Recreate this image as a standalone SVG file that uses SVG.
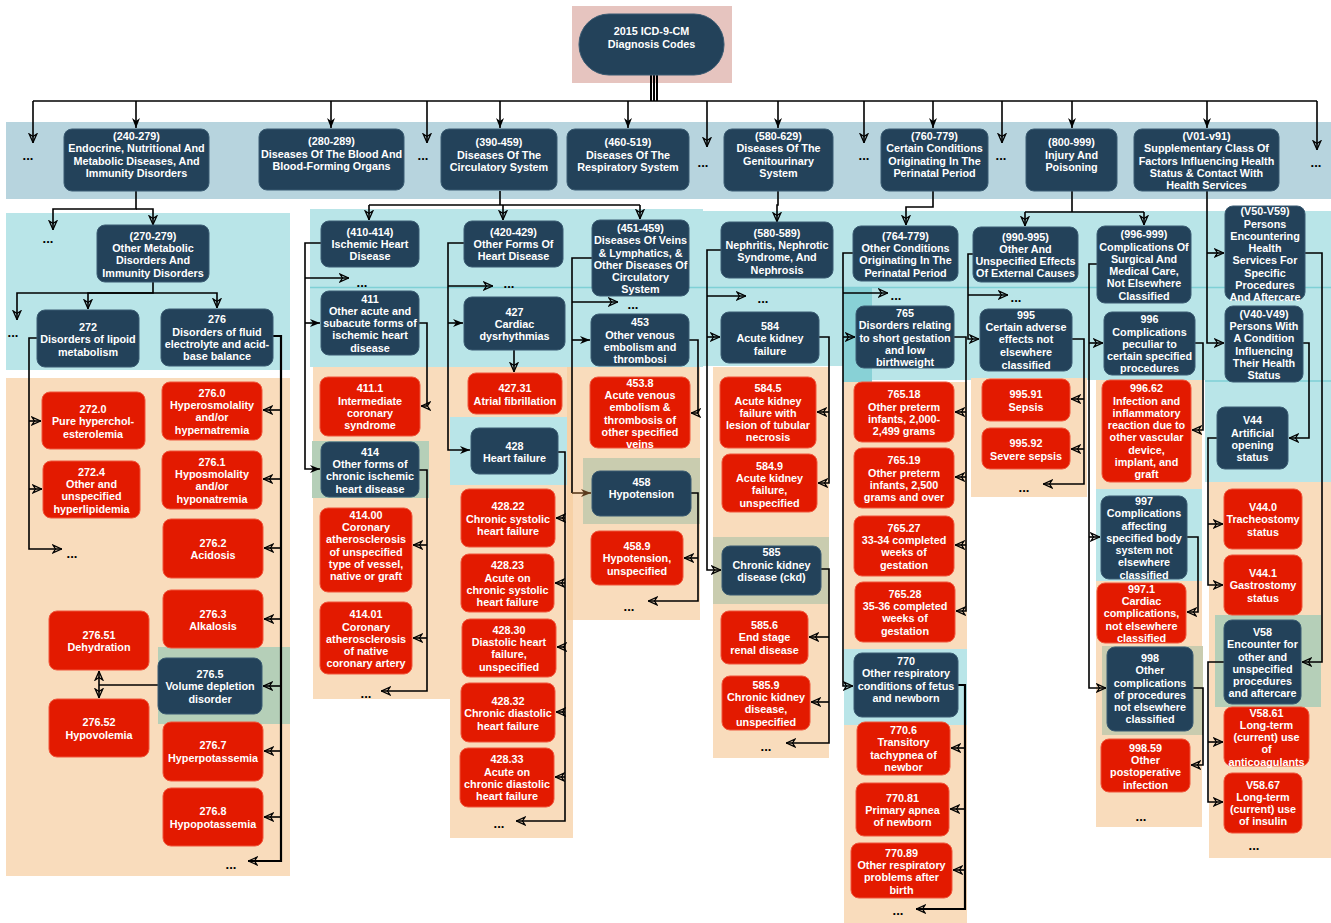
<svg xmlns="http://www.w3.org/2000/svg" width="1331" height="923" viewBox="0 0 1331 923">
<style>
.d{fill:#23425a;stroke:#3a5b72;stroke-width:1}
.r{fill:#e31a00;stroke:#f0553a;stroke-width:1}
.t{font-family:"Liberation Sans",Arial,sans-serif;font-weight:700;font-size:10.8px;fill:#fff;text-anchor:middle}
.k{font-family:"Liberation Sans",Arial,sans-serif;font-weight:700;font-size:13px;fill:#000;text-anchor:middle}
.c{fill:none;stroke:#000;stroke-width:1.6}
.o{marker-end:url(#ao)}
.f{marker-end:url(#af)}
.bg{stroke:none}
</style>
<defs>
<marker id="af" viewBox="0 0 10 10" refX="10" refY="5" markerWidth="10" markerHeight="10" markerUnits="userSpaceOnUse" orient="auto"><path d="M0,1 L10,5 L0,9 L3,5 Z" fill="#000"/></marker>
<marker id="ao" viewBox="0 0 10 10" refX="10" refY="5" markerWidth="10" markerHeight="10" markerUnits="userSpaceOnUse" orient="auto"><path d="M1,1.2 L9.6,5 L1,8.8 L3.5,5 Z" fill="none" stroke="#000" stroke-width="1.3"/></marker>
<marker id="ab" viewBox="0 0 10 10" refX="10" refY="5" markerWidth="10" markerHeight="10" markerUnits="userSpaceOnUse" orient="auto"><path d="M0,1 L10,5 L0,9 L3,5 Z" fill="#5a3a1c"/></marker>
</defs>
<rect width="1331" height="923" fill="#fff"/>
<g id="panels">
<rect class="bg" x="572" y="6" width="160" height="77" fill="#e6c4bf"/>
<rect class="bg" x="6" y="122" width="1325" height="77" fill="#b7d4de"/>
<rect class="bg" x="6" y="213" width="284" height="157" fill="#b9e5e8"/>
<rect class="bg" x="6" y="378" width="284" height="498" fill="#f9dcbc"/>
<rect class="bg" x="310" y="209" width="393" height="158" fill="#b9e5e8"/>
<rect class="bg" x="703" y="211" width="140" height="155" fill="#b9e5e8"/>
<rect class="bg" x="843" y="211" width="362" height="169" fill="#b9e5e8"/>
<rect class="bg" x="1205" y="211" width="126" height="271" fill="#b9e5e8"/>
<rect class="bg" x="843" y="288" width="29" height="94" fill="#88d1d6"/>
<path d="M310,287.5 H1331 M1205,381 H1331" stroke="#7fd0d5" stroke-width="1.5" fill="none"/>
<rect class="bg" x="313" y="367" width="137" height="332" fill="#f9dcbc"/>
<rect class="bg" x="450" y="367" width="123" height="471" fill="#f9dcbc"/>
<rect class="bg" x="573" y="367" width="127" height="253" fill="#f9dcbc"/>
<rect class="bg" x="567" y="367" width="6" height="253" fill="#f7d1a6"/>
<rect class="bg" x="450" y="417" width="117" height="68" fill="#b9e5e8"/>
<rect class="bg" x="583" y="458" width="117" height="66" fill="#c9ccaf"/>
<rect class="bg" x="713" y="367" width="116" height="391" fill="#f9dcbc"/>
<rect class="bg" x="713" y="537" width="116" height="67" fill="#c9ccaf"/>
<rect class="bg" x="844" y="382" width="123" height="541" fill="#f9dcbc"/>
<rect class="bg" x="844" y="649" width="123" height="76" fill="#b9e5e8"/>
<rect class="bg" x="971" y="378" width="116" height="119" fill="#f9dcbc"/>
<rect class="bg" x="1096" y="380" width="106" height="447" fill="#f9dcbc"/>
<rect class="bg" x="1096" y="489" width="106" height="92" fill="#b9e5e8"/>
<rect class="bg" x="1102" y="646" width="101" height="89" fill="#c9ccaf"/>
<rect class="bg" x="1209" y="482" width="122" height="376" fill="#f9dcbc"/>
<rect class="bg" x="1215" y="615" width="106" height="92" fill="#b5cfb8"/>
<rect class="bg" x="312" y="441" width="117" height="57" fill="#b5cfb8"/>
<rect class="bg" x="158" y="647" width="132" height="77" fill="#b5cfb8"/>
</g>
<g id="connectors">
<path d="M651,75 V101 M654,75 V101 M657,75 V101" stroke="#000" stroke-width="2" fill="none"/>
<path class="c" d="M33,101 H1317"/>
<path class="c o" d="M33,101 V143"/>
<path class="c f" d="M136,101 V128"/>
<path class="c f" d="M331,101 V128"/>
<path class="c o" d="M427,101 V143"/>
<path class="c f" d="M500,101 V128"/>
<path class="c f" d="M628,101 V128"/>
<path class="c o" d="M707,101 V147"/>
<path class="c f" d="M778,101 V128"/>
<path class="c o" d="M864,101 V143"/>
<path class="c f" d="M933,101 V128"/>
<path class="c o" d="M1002,101 V143"/>
<path class="c f" d="M1072,101 V128"/>
<path class="c f" d="M1207,101 V128"/>
<path class="c o" d="M1317,101 V150"/>

<path class="c o" d="M136,191 V209 H53 V230"/>
<path class="c o" d="M136,209 H153 V225"/>
<path class="c o" d="M153,282 V293 H17 V320"/>
<path class="c o" d="M153,293 H88 V309"/>
<path class="c o" d="M153,293 H217 V308"/>
<path class="c o" d="M37,338 H29 V549 H62"/>
<path class="c o" d="M29,421 H41"/>
<path class="c o" d="M29,489 H42"/>
<path class="c o" d="M273,336 H281 V861 H248" style="stroke-width:2.2"/>
<path class="c o" d="M281,410 H263"/>
<path class="c o" d="M281,479 H263"/>
<path class="c o" d="M281,548 H264"/>
<path class="c o" d="M281,619 H264"/>
<path class="c o" d="M281,686 H263"/>
<path class="c o" d="M281,751 H264"/>
<path class="c o" d="M281,817 H264"/>
<path class="c" d="M158,685 H99"/>
<path class="c o" d="M99,685 V671"/>
<path class="c o" d="M99,685 V698"/>

<path class="c" d="M500,191 V205 M369,205 H640"/>
<path class="c o" d="M369,205 V220"/>
<path class="c o" d="M503,205 V220"/>
<path class="c o" d="M640,205 V219"/>
<path class="c f" d="M321,243 H305 V469 H320"/>
<path class="c o" d="M305,278 H349"/>
<path class="c f" d="M305,323 H320"/>
<path class="c o" d="M419,323 H427 V406 H421"/>
<path class="c o" d="M419,470 H427 V691 H381"/>
<path class="c o" d="M427,545 H413"/>
<path class="c o" d="M427,638 H413"/>
<path class="c f" d="M464,243 H448 V450 H470"/>
<path class="c o" d="M448,286 H493"/>
<path class="c f" d="M448,323 H463"/>
<path class="c o" d="M514,350 V372"/>
<path class="c o" d="M558,452 H565 V821 H516"/>
<path class="c o" d="M565,518 H556"/>
<path class="c o" d="M565,583 H555"/>
<path class="c o" d="M565,647 H557"/>
<path class="c o" d="M565,712 H556"/>
<path class="c o" d="M565,777 H555"/>
<path class="c" d="M592,258 H572 V493"/>
<path d="M572,493 H591" fill="none" stroke="#5a3a1c" stroke-width="1.6" marker-end="url(#ab)"/>
<path class="c o" d="M572,302 H618"/>
<path class="c f" d="M572,340 H590"/>
<path class="c o" d="M689,340 H698 V413 H691"/>
<path class="c o" d="M691,493 H698 V601 H648"/>
<path class="c o" d="M698,558 H684"/>

<path class="c o" d="M778,191 V205 H777 V222"/>
<path class="c o" d="M721,250 H707 V570 H721"/>
<path class="c o" d="M707,296 H746"/>
<path class="c o" d="M707,337 H720"/>
<path class="c o" d="M819,337 H829 V483 H818"/>
<path class="c o" d="M829,412 H817"/>
<path class="c o" d="M821,569 H829 V743 H786"/>
<path class="c o" d="M829,637 H809"/>
<path class="c o" d="M829,702 H811"/>

<path class="c o" d="M933,191 V207 H906 V225"/>
<path class="c o" d="M853,253 H843 V686 H853"/>
<path class="c o" d="M843,293 H888"/>
<path class="c o" d="M843,337 H855"/>
<path class="c o" d="M954,337 H966 V611 H956"/>
<path class="c o" d="M966,412 H955"/>
<path class="c o" d="M966,477 H955"/>
<path class="c o" d="M966,545 H955"/>
<path class="c o" d="M958,685 H965 V909 H916" style="stroke-width:2.2"/>
<path class="c o" d="M965,748 H951"/>
<path class="c o" d="M965,809 H950"/>
<path class="c o" d="M965,870 H953"/>

<path class="c" d="M1072,191 V212 M1025,212 H1144"/>
<path class="c o" d="M1025,212 V226"/>
<path class="c o" d="M1144,212 V225"/>
<path class="c o" d="M973,254 H968 V339 H979"/>
<path class="c o" d="M968,295 H1008"/>
<path class="c o" d="M1072,339 H1084 V484 H1043"/>
<path class="c o" d="M1084,399 H1071"/>
<path class="c o" d="M1084,449 H1071"/>
<path class="c o" d="M1097,264 H1089 V688 H1106"/>
<path class="c o" d="M1089,343 H1103"/>
<path class="c o" d="M1089,537 H1100"/>
<path class="c o" d="M1195,343 H1203 V430 H1192"/>
<path class="c o" d="M1187,537 H1198 V612 H1187"/>
<path class="c o" d="M1193,688 H1203 V765 H1191"/>

<path class="c o" d="M1207,191 V343 H1224"/>
<path class="c o" d="M1207,253 H1224"/>
<path class="c o" d="M1305,253 H1322 V662 H1302"/>
<path class="c o" d="M1303,343 H1309 V438 H1289"/>
<path class="c o" d="M1217,438 H1208 V585 H1223"/>
<path class="c o" d="M1208,524 H1223"/>
<path class="c o" d="M1224,662 H1208 V802 H1223"/>
<path class="c o" d="M1208,742 H1223"/>
</g>

<g id="ellipses">
<text class="k" x="28" y="160">...</text>
<text class="k" x="423" y="160">...</text>
<text class="k" x="703" y="167">...</text>
<text class="k" x="864" y="160">...</text>
<text class="k" x="1001" y="160">...</text>
<text class="k" x="1316" y="167">...</text>
<text class="k" x="48" y="243">...</text>
<text class="k" x="13" y="337">...</text>
<text class="k" x="72" y="558">...</text>
<text class="k" x="231" y="869">...</text>
<text class="k" x="362" y="287">...</text>
<text class="k" x="366" y="698">...</text>
<text class="k" x="509" y="288">...</text>
<text class="k" x="633" y="309">...</text>
<text class="k" x="499" y="828">...</text>
<text class="k" x="629" y="611">...</text>
<text class="k" x="763" y="303">...</text>
<text class="k" x="766" y="751">...</text>
<text class="k" x="896" y="300">...</text>
<text class="k" x="898" y="915">...</text>
<text class="k" x="1016" y="302">...</text>
<text class="k" x="1024" y="492">...</text>
<text class="k" x="1141" y="821">...</text>
<text class="k" x="1254" y="850">...</text>
</g>

<g id="root"><rect class="d" x="579" y="14" width="145" height="61" rx="30"/><text class="t"><tspan x="651.5" y="35">2015 ICD-9-CM</tspan><tspan x="651.5" y="48">Diagnosis Codes</tspan></text></g>

<g id="n240"><rect class="d" x="64" y="129" width="145" height="62" rx="8"/><text class="t"><tspan x="136.5" y="140">(240-279)</tspan><tspan x="136.5" y="152">Endocrine, Nutritional And</tspan><tspan x="136.5" y="165">Metabolic Diseases, And</tspan><tspan x="136.5" y="177">Immunity Disorders</tspan></text></g>
<g id="n280"><rect class="d" x="259" y="129" width="145" height="61" rx="8"/><text class="t"><tspan x="331.5" y="145">(280-289)</tspan><tspan x="331.5" y="158">Diseases Of The Blood And</tspan><tspan x="331.5" y="170">Blood-Forming Organs</tspan></text></g>
<g id="n390"><rect class="d" x="441" y="129" width="116" height="61" rx="8"/><text class="t"><tspan x="499" y="146">(390-459)</tspan><tspan x="499" y="159">Diseases Of The</tspan><tspan x="499" y="171">Circulatory System</tspan></text></g>
<g id="n460"><rect class="d" x="567" y="129" width="122" height="61" rx="8"/><text class="t"><tspan x="628" y="146">(460-519)</tspan><tspan x="628" y="159">Diseases Of The</tspan><tspan x="628" y="171">Respiratory System</tspan></text></g>
<g id="n580"><rect class="d" x="724" y="129" width="109" height="62" rx="8"/><text class="t"><tspan x="778.5" y="140">(580-629)</tspan><tspan x="778.5" y="152">Diseases Of The</tspan><tspan x="778.5" y="165">Genitourinary</tspan><tspan x="778.5" y="177">System</tspan></text></g>
<g id="n760"><rect class="d" x="881" y="129" width="107" height="62" rx="8"/><text class="t"><tspan x="934.5" y="140">(760-779)</tspan><tspan x="934.5" y="152">Certain Conditions</tspan><tspan x="934.5" y="165">Originating In The</tspan><tspan x="934.5" y="177">Perinatal Period</tspan></text></g>
<g id="n800"><rect class="d" x="1026" y="129" width="91" height="62" rx="8"/><text class="t"><tspan x="1071.5" y="146">(800-999)</tspan><tspan x="1071.5" y="159">Injury And</tspan><tspan x="1071.5" y="171">Poisoning</tspan></text></g>
<g id="nV01"><rect class="d" x="1134" y="129" width="145" height="62" rx="8"/><text class="t"><tspan x="1206.5" y="140">(V01-v91)</tspan><tspan x="1206.5" y="152">Supplementary Class Of</tspan><tspan x="1206.5" y="165">Factors Influencing Health</tspan><tspan x="1206.5" y="177">Status &amp; Contact With</tspan><tspan x="1206.5" y="189">Health Services</tspan></text></g>

<g id="n270"><rect class="d" x="97" y="225" width="112" height="57" rx="8"/><text class="t"><tspan x="153" y="240">(270-279)</tspan><tspan x="153" y="252">Other Metabolic</tspan><tspan x="153" y="264">Disorders And</tspan><tspan x="153" y="277">Immunity Disorders</tspan></text></g>
<g id="n272"><rect class="d" x="37" y="310" width="102" height="57" rx="8"/><text class="t"><tspan x="88" y="331">272</tspan><tspan x="88" y="343">Disorders of lipoid</tspan><tspan x="88" y="356">metabolism</tspan></text></g>
<g id="n276"><rect class="d" x="161" y="309" width="112" height="57" rx="8"/><text class="t"><tspan x="217" y="323">276</tspan><tspan x="217" y="336">Disorders of fluid</tspan><tspan x="217" y="348">electrolyte and acid-</tspan><tspan x="217" y="360">base balance</tspan></text></g>
<g id="n410"><rect class="d" x="321" y="221" width="98" height="46" rx="8"/><text class="t"><tspan x="370" y="236">(410-414)</tspan><tspan x="370" y="248">Ischemic Heart</tspan><tspan x="370" y="260">Disease</tspan></text></g>
<g id="n420"><rect class="d" x="464" y="221" width="99" height="46" rx="8"/><text class="t"><tspan x="513.5" y="236">(420-429)</tspan><tspan x="513.5" y="248">Other Forms Of</tspan><tspan x="513.5" y="260">Heart Disease</tspan></text></g>
<g id="n451"><rect class="d" x="592" y="220" width="97" height="76" rx="8"/><text class="t"><tspan x="640.5" y="232">(451-459)</tspan><tspan x="640.5" y="244">Diseases Of Veins</tspan><tspan x="640.5" y="257">&amp; Lymphatics, &amp;</tspan><tspan x="640.5" y="269">Other Diseases Of</tspan><tspan x="640.5" y="281">Circulatory</tspan><tspan x="640.5" y="293">System</tspan></text></g>
<g id="n411"><rect class="d" x="321" y="291" width="98" height="64" rx="8"/><text class="t"><tspan x="370" y="303">411</tspan><tspan x="370" y="315">Other acute and</tspan><tspan x="370" y="327">subacute forms of</tspan><tspan x="370" y="339">ischemic heart</tspan><tspan x="370" y="352">disease</tspan></text></g>
<g id="n427"><rect class="d" x="464" y="297" width="101" height="53" rx="8"/><text class="t"><tspan x="514.5" y="316">427</tspan><tspan x="514.5" y="328">Cardiac</tspan><tspan x="514.5" y="340">dysrhythmias</tspan></text></g>
<g id="n453"><rect class="d" x="591" y="314" width="98" height="52" rx="8"/><text class="t"><tspan x="640" y="326">453</tspan><tspan x="640" y="339">Other venous</tspan><tspan x="640" y="351">embolism and</tspan><tspan x="640" y="363">thrombosi</tspan></text></g>
<g id="n580_589"><rect class="d" x="721" y="222" width="112" height="56" rx="8"/><text class="t"><tspan x="777" y="237">(580-589)</tspan><tspan x="777" y="249">Nephritis, Nephrotic</tspan><tspan x="777" y="261">Syndrome, And</tspan><tspan x="777" y="274">Nephrosis</tspan></text></g>
<g id="n584"><rect class="d" x="721" y="312" width="98" height="51" rx="8"/><text class="t"><tspan x="770" y="330">584</tspan><tspan x="770" y="342">Acute kidney</tspan><tspan x="770" y="355">failure</tspan></text></g>
<g id="n764"><rect class="d" x="853" y="226" width="105" height="55" rx="8"/><text class="t"><tspan x="905.5" y="240">(764-779)</tspan><tspan x="905.5" y="252">Other Conditions</tspan><tspan x="905.5" y="264">Originating In The</tspan><tspan x="905.5" y="277">Perinatal Period</tspan></text></g>
<g id="n765"><rect class="d" x="856" y="306" width="98" height="62" rx="8"/><text class="t"><tspan x="905" y="317">765</tspan><tspan x="905" y="329">Disorders relating</tspan><tspan x="905" y="342">to short gestation</tspan><tspan x="905" y="354">and low</tspan><tspan x="905" y="366">birthweight</tspan></text></g>
<g id="n990"><rect class="d" x="973" y="227" width="105" height="55" rx="8"/><text class="t"><tspan x="1025.5" y="241">(990-995)</tspan><tspan x="1025.5" y="253">Other And</tspan><tspan x="1025.5" y="265">Unspecified Effects</tspan><tspan x="1025.5" y="277">Of External Causes</tspan></text></g>
<g id="n995"><rect class="d" x="980" y="309" width="92" height="62" rx="8"/><text class="t"><tspan x="1026" y="319">995</tspan><tspan x="1026" y="331">Certain adverse</tspan><tspan x="1026" y="343">effects not</tspan><tspan x="1026" y="356">elsewhere</tspan><tspan x="1026" y="369">classified</tspan></text></g>
<g id="n996_999"><rect class="d" x="1097" y="226" width="94" height="77" rx="8"/><text class="t"><tspan x="1144" y="238">(996-999)</tspan><tspan x="1144" y="251">Complications Of</tspan><tspan x="1144" y="263">Surgical And</tspan><tspan x="1144" y="275">Medical Care,</tspan><tspan x="1144" y="287">Not Elsewhere</tspan><tspan x="1144" y="300">Classified</tspan></text></g>
<g id="n996"><rect class="d" x="1104" y="312" width="91" height="63" rx="8"/><text class="t"><tspan x="1149.5" y="323">996</tspan><tspan x="1149.5" y="336">Complications</tspan><tspan x="1149.5" y="348">peculiar to</tspan><tspan x="1149.5" y="360">certain specified</tspan><tspan x="1149.5" y="372">procedures</tspan></text></g>
<g id="nV50"><rect class="d" x="1225" y="206" width="80" height="94" rx="8"/><text class="t"><tspan x="1265" y="215">(V50-V59)</tspan><tspan x="1265" y="228">Persons</tspan><tspan x="1265" y="240">Encountering</tspan><tspan x="1265" y="252">Health</tspan><tspan x="1265" y="264">Services For</tspan><tspan x="1265" y="277">Specific</tspan><tspan x="1265" y="289">Procedures</tspan><tspan x="1265" y="301">And Aftercare</tspan></text></g>
<g id="nV40"><rect class="d" x="1225" y="306" width="78" height="76" rx="8"/><text class="t"><tspan x="1264" y="318">(V40-V49)</tspan><tspan x="1264" y="330">Persons With</tspan><tspan x="1264" y="342">A Condition</tspan><tspan x="1264" y="355">Influencing</tspan><tspan x="1264" y="367">Their Health</tspan><tspan x="1264" y="379">Status</tspan></text></g>
<g id="nV44"><rect class="d" x="1217" y="407" width="71" height="62" rx="8"/><text class="t"><tspan x="1252.5" y="424">V44</tspan><tspan x="1252.5" y="437">Artificial</tspan><tspan x="1252.5" y="449">opening</tspan><tspan x="1252.5" y="461">status</tspan></text></g>

<g id="n414"><rect class="d" x="321" y="442" width="98" height="55" rx="8"/><text class="t"><tspan x="370" y="456">414</tspan><tspan x="370" y="468">Other forms of</tspan><tspan x="370" y="480">chronic ischemic</tspan><tspan x="370" y="493">heart disease</tspan></text></g>
<g id="n428"><rect class="d" x="471" y="428" width="87" height="46" rx="8"/><text class="t"><tspan x="514.5" y="450">428</tspan><tspan x="514.5" y="462">Heart failure</tspan></text></g>
<g id="n458"><rect class="d" x="592" y="471" width="99" height="45" rx="8"/><text class="t"><tspan x="641.5" y="486">458</tspan><tspan x="641.5" y="498">Hypotension</tspan></text></g>
<g id="n585"><rect class="d" x="722" y="546" width="99" height="49" rx="8"/><text class="t"><tspan x="771.5" y="556">585</tspan><tspan x="771.5" y="569">Chronic kidney</tspan><tspan x="771.5" y="581">disease (ckd)</tspan></text></g>
<g id="n770"><rect class="d" x="854" y="653" width="104" height="64" rx="8"/><text class="t"><tspan x="906" y="665">770</tspan><tspan x="906" y="677">Other respiratory</tspan><tspan x="906" y="690">conditions of fetus</tspan><tspan x="906" y="702">and newborn</tspan></text></g>
<g id="n997"><rect class="d" x="1101" y="496" width="86" height="83" rx="8"/><text class="t"><tspan x="1144" y="505">997</tspan><tspan x="1144" y="517">Complications</tspan><tspan x="1144" y="530">affecting</tspan><tspan x="1144" y="542">specified body</tspan><tspan x="1144" y="554">system not</tspan><tspan x="1144" y="566">elsewhere</tspan><tspan x="1144" y="579">classified</tspan></text></g>
<g id="n998"><rect class="d" x="1107" y="647" width="86" height="84" rx="8"/><text class="t"><tspan x="1150" y="662">998</tspan><tspan x="1150" y="674">Other</tspan><tspan x="1150" y="687">complications</tspan><tspan x="1150" y="699">of procedures</tspan><tspan x="1150" y="711">not elsewhere</tspan><tspan x="1150" y="723">classified</tspan></text></g>
<g id="nV58"><rect class="d" x="1224" y="620" width="77" height="84" rx="8"/><text class="t"><tspan x="1262.5" y="636">V58</tspan><tspan x="1262.5" y="648">Encounter for</tspan><tspan x="1262.5" y="661">other and</tspan><tspan x="1262.5" y="673">unspecified</tspan><tspan x="1262.5" y="685">procedures</tspan><tspan x="1262.5" y="697">and aftercare</tspan></text></g>
<g id="n276_5"><rect class="d" x="158" y="658" width="104" height="56" rx="8"/><text class="t"><tspan x="210" y="678">276.5</tspan><tspan x="210" y="690">Volume depletion</tspan><tspan x="210" y="703">disorder</tspan></text></g>

<g id="n272_0"><rect class="r" x="42" y="392" width="103" height="57" rx="8"/><text class="t"><tspan x="93" y="413">272.0</tspan><tspan x="93" y="425">Pure hyperchol-</tspan><tspan x="93" y="438">esterolemia</tspan></text></g>
<g id="n272_4"><rect class="r" x="43" y="461" width="97" height="57" rx="8"/><text class="t"><tspan x="91.5" y="476">272.4</tspan><tspan x="91.5" y="488">Other and</tspan><tspan x="91.5" y="500">unspecified</tspan><tspan x="91.5" y="513">hyperlipidemia</tspan></text></g>
<g id="n276_0"><rect class="r" x="162" y="382" width="100" height="58" rx="8"/><text class="t"><tspan x="212" y="397">276.0</tspan><tspan x="212" y="409">Hyperosmolality</tspan><tspan x="212" y="421">and/or</tspan><tspan x="212" y="434">hypernatremia</tspan></text></g>
<g id="n276_1"><rect class="r" x="162" y="451" width="100" height="58" rx="8"/><text class="t"><tspan x="212" y="466">276.1</tspan><tspan x="212" y="478">Hyposmolality</tspan><tspan x="212" y="490">and/or</tspan><tspan x="212" y="503">hyponatremia</tspan></text></g>
<g id="n276_2"><rect class="r" x="163" y="519" width="100" height="59" rx="8"/><text class="t"><tspan x="213" y="547">276.2</tspan><tspan x="213" y="559">Acidosis</tspan></text></g>
<g id="n276_3"><rect class="r" x="163" y="590" width="100" height="58" rx="8"/><text class="t"><tspan x="213" y="618">276.3</tspan><tspan x="213" y="630">Alkalosis</tspan></text></g>
<g id="n276_51"><rect class="r" x="49" y="611" width="100" height="59" rx="8"/><text class="t"><tspan x="99" y="639">276.51</tspan><tspan x="99" y="651">Dehydration</tspan></text></g>
<g id="n276_52"><rect class="r" x="49" y="699" width="100" height="58" rx="8"/><text class="t"><tspan x="99" y="726">276.52</tspan><tspan x="99" y="739">Hypovolemia</tspan></text></g>
<g id="n276_7"><rect class="r" x="163" y="722" width="100" height="59" rx="8"/><text class="t"><tspan x="213" y="749">276.7</tspan><tspan x="213" y="762">Hyperpotassemia</tspan></text></g>
<g id="n276_8"><rect class="r" x="163" y="788" width="100" height="58" rx="8"/><text class="t"><tspan x="213" y="815">276.8</tspan><tspan x="213" y="828">Hypopotassemia</tspan></text></g>
<g id="n411_1"><rect class="r" x="320" y="377" width="100" height="59" rx="8"/><text class="t"><tspan x="370" y="392">411.1</tspan><tspan x="370" y="405">Intermediate</tspan><tspan x="370" y="417">coronary</tspan><tspan x="370" y="429">syndrome</tspan></text></g>
<g id="n414_00"><rect class="r" x="320" y="508" width="92" height="84" rx="8"/><text class="t"><tspan x="366" y="519">414.00</tspan><tspan x="366" y="531">Coronary</tspan><tspan x="366" y="543">atherosclerosis</tspan><tspan x="366" y="556">of unspecified</tspan><tspan x="366" y="568">type of vessel,</tspan><tspan x="366" y="580">native or graft</tspan></text></g>
<g id="n414_01"><rect class="r" x="320" y="602" width="92" height="72" rx="8"/><text class="t"><tspan x="366" y="618">414.01</tspan><tspan x="366" y="631">Coronary</tspan><tspan x="366" y="643">atherosclerosis</tspan><tspan x="366" y="655">of native</tspan><tspan x="366" y="667">coronary artery</tspan></text></g>
<g id="n427_31"><rect class="r" x="468" y="373" width="94" height="41" rx="8"/><text class="t"><tspan x="515" y="392">427.31</tspan><tspan x="515" y="405">Atrial fibrillation</tspan></text></g>
<g id="n428_22"><rect class="r" x="461" y="489" width="94" height="58" rx="8"/><text class="t"><tspan x="508" y="510">428.22</tspan><tspan x="508" y="523">Chronic systolic</tspan><tspan x="508" y="535">heart failure</tspan></text></g>
<g id="n428_23"><rect class="r" x="461" y="554" width="93" height="58" rx="8"/><text class="t"><tspan x="507.5" y="569">428.23</tspan><tspan x="507.5" y="582">Acute on</tspan><tspan x="507.5" y="594">chronic systolic</tspan><tspan x="507.5" y="606">heart failure</tspan></text></g>
<g id="n428_30"><rect class="r" x="462" y="619" width="94" height="58" rx="8"/><text class="t"><tspan x="509" y="634">428.30</tspan><tspan x="509" y="646">Diastolic heart</tspan><tspan x="509" y="658">failure,</tspan><tspan x="509" y="671">unspecified</tspan></text></g>
<g id="n428_32"><rect class="r" x="461" y="683" width="94" height="59" rx="8"/><text class="t"><tspan x="508" y="705">428.32</tspan><tspan x="508" y="717">Chronic diastolic</tspan><tspan x="508" y="730">heart failure</tspan></text></g>
<g id="n428_33"><rect class="r" x="460" y="748" width="94" height="59" rx="8"/><text class="t"><tspan x="507" y="763">428.33</tspan><tspan x="507" y="776">Acute on</tspan><tspan x="507" y="788">chronic diastolic</tspan><tspan x="507" y="800">heart failure</tspan></text></g>
<g id="n453_8"><rect class="r" x="590" y="377" width="100" height="71" rx="8"/><text class="t"><tspan x="640" y="387">453.8</tspan><tspan x="640" y="399">Acute venous</tspan><tspan x="640" y="411">embolism &amp;</tspan><tspan x="640" y="424">thrombosis of</tspan><tspan x="640" y="436">other specified</tspan><tspan x="640" y="448">veins</tspan></text></g>
<g id="n458_9"><rect class="r" x="591" y="531" width="92" height="54" rx="8"/><text class="t"><tspan x="637" y="550">458.9</tspan><tspan x="637" y="562">Hypotension,</tspan><tspan x="637" y="575">unspecified</tspan></text></g>
<g id="n584_5"><rect class="r" x="720" y="377" width="96" height="71" rx="8"/><text class="t"><tspan x="768" y="392">584.5</tspan><tspan x="768" y="405">Acute kidney</tspan><tspan x="768" y="417">failure with</tspan><tspan x="768" y="429">lesion of tubular</tspan><tspan x="768" y="441">necrosis</tspan></text></g>
<g id="n584_9"><rect class="r" x="722" y="454" width="95" height="58" rx="8"/><text class="t"><tspan x="769.5" y="470">584.9</tspan><tspan x="769.5" y="482">Acute kidney</tspan><tspan x="769.5" y="494">failure,</tspan><tspan x="769.5" y="507">unspecified</tspan></text></g>
<g id="n585_6"><rect class="r" x="721" y="611" width="87" height="53" rx="8"/><text class="t"><tspan x="764.5" y="629">585.6</tspan><tspan x="764.5" y="641">End stage</tspan><tspan x="764.5" y="654">renal disease</tspan></text></g>
<g id="n585_9"><rect class="r" x="722" y="676" width="88" height="54" rx="8"/><text class="t"><tspan x="766" y="689">585.9</tspan><tspan x="766" y="701">Chronic kidney</tspan><tspan x="766" y="713">disease,</tspan><tspan x="766" y="726">unspecified</tspan></text></g>
<g id="n765_18"><rect class="r" x="854" y="382" width="100" height="60" rx="8"/><text class="t"><tspan x="904" y="398">765.18</tspan><tspan x="904" y="411">Other preterm</tspan><tspan x="904" y="423">infants, 2,000-</tspan><tspan x="904" y="435">2,499 grams</tspan></text></g>
<g id="n765_19"><rect class="r" x="854" y="448" width="100" height="60" rx="8"/><text class="t"><tspan x="904" y="464">765.19</tspan><tspan x="904" y="477">Other preterm</tspan><tspan x="904" y="489">infants, 2,500</tspan><tspan x="904" y="501">grams and over</tspan></text></g>
<g id="n765_27"><rect class="r" x="854" y="516" width="100" height="60" rx="8"/><text class="t"><tspan x="904" y="532">765.27</tspan><tspan x="904" y="544">33-34 completed</tspan><tspan x="904" y="556">weeks of</tspan><tspan x="904" y="569">gestation</tspan></text></g>
<g id="n765_28"><rect class="r" x="855" y="582" width="100" height="60" rx="8"/><text class="t"><tspan x="905" y="598">765.28</tspan><tspan x="905" y="610">35-36 completed</tspan><tspan x="905" y="622">weeks of</tspan><tspan x="905" y="635">gestation</tspan></text></g>
<g id="n770_6"><rect class="r" x="857" y="722" width="93" height="53" rx="8"/><text class="t"><tspan x="903.5" y="734">770.6</tspan><tspan x="903.5" y="746">Transitory</tspan><tspan x="903.5" y="759">tachypnea of</tspan><tspan x="903.5" y="771">newbor</tspan></text></g>
<g id="n770_81"><rect class="r" x="856" y="783" width="93" height="53" rx="8"/><text class="t"><tspan x="902.5" y="802">770.81</tspan><tspan x="902.5" y="814">Primary apnea</tspan><tspan x="902.5" y="826">of newborn</tspan></text></g>
<g id="n770_89"><rect class="r" x="851" y="843" width="101" height="55" rx="8"/><text class="t"><tspan x="901.5" y="857">770.89</tspan><tspan x="901.5" y="869">Other respiratory</tspan><tspan x="901.5" y="881">problems after</tspan><tspan x="901.5" y="894">birth</tspan></text></g>
<g id="n995_91"><rect class="r" x="982" y="379" width="88" height="42" rx="8"/><text class="t"><tspan x="1026" y="398">995.91</tspan><tspan x="1026" y="411">Sepsis</tspan></text></g>
<g id="n995_92"><rect class="r" x="982" y="428" width="88" height="41" rx="8"/><text class="t"><tspan x="1026" y="447">995.92</tspan><tspan x="1026" y="460">Severe sepsis</tspan></text></g>
<g id="n996_62"><rect class="r" x="1102" y="380" width="89" height="102" rx="8"/><text class="t"><tspan x="1146.5" y="392">996.62</tspan><tspan x="1146.5" y="405">Infection and</tspan><tspan x="1146.5" y="417">inflammatory</tspan><tspan x="1146.5" y="429">reaction due to</tspan><tspan x="1146.5" y="441">other vascular</tspan><tspan x="1146.5" y="454">device,</tspan><tspan x="1146.5" y="466">implant, and</tspan><tspan x="1146.5" y="478">graft</tspan></text></g>
<g id="n997_1"><rect class="r" x="1097" y="583" width="89" height="60" rx="8"/><text class="t"><tspan x="1141.5" y="593">997.1</tspan><tspan x="1141.5" y="605">Cardiac</tspan><tspan x="1141.5" y="617">complications,</tspan><tspan x="1141.5" y="630">not elsewhere</tspan><tspan x="1141.5" y="642">classified</tspan></text></g>
<g id="n998_59"><rect class="r" x="1101" y="739" width="89" height="53" rx="8"/><text class="t"><tspan x="1145.5" y="752">998.59</tspan><tspan x="1145.5" y="764">Other</tspan><tspan x="1145.5" y="776">postoperative</tspan><tspan x="1145.5" y="789">infection</tspan></text></g>
<g id="nV44_0"><rect class="r" x="1224" y="489" width="78" height="60" rx="8"/><text class="t"><tspan x="1263" y="511">V44.0</tspan><tspan x="1263" y="523">Tracheostomy</tspan><tspan x="1263" y="536">status</tspan></text></g>
<g id="nV44_1"><rect class="r" x="1224" y="555" width="78" height="60" rx="8"/><text class="t"><tspan x="1263" y="577">V44.1</tspan><tspan x="1263" y="589">Gastrostomy</tspan><tspan x="1263" y="602">status</tspan></text></g>
<g id="nV58_61"><rect class="r" x="1224" y="707" width="85" height="59" rx="8"/><text class="t"><tspan x="1266.5" y="717">V58.61</tspan><tspan x="1266.5" y="729">Long-term</tspan><tspan x="1266.5" y="741">(current) use</tspan><tspan x="1266.5" y="753">of</tspan><tspan x="1266.5" y="766">anticoagulants</tspan></text></g>
<g id="nV58_67"><rect class="r" x="1224" y="773" width="78" height="60" rx="8"/><text class="t"><tspan x="1263" y="789">V58.67</tspan><tspan x="1263" y="801">Long-term</tspan><tspan x="1263" y="813">(current) use</tspan><tspan x="1263" y="825">of insulin</tspan></text></g>
</svg>
